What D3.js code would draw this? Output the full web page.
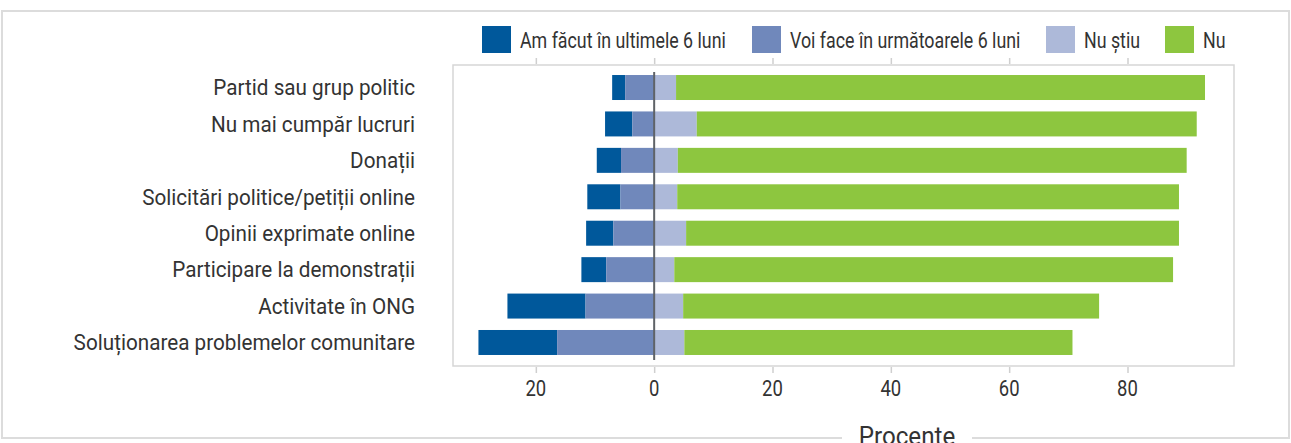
<!DOCTYPE html>
<html>
<head>
<meta charset="utf-8">
<script src="https://cdn.jsdelivr.net/npm/d3@7"></script>
<style>
  html, body { margin: 0; padding: 0; background: #fff; }
  text { font-family: Roboto, "Noto Sans", sans-serif; fill: #333; font-weight: 400; }
</style>
</head>
<body>
<svg width="1291" height="443"></svg>
<script>
// data
var categories = [
  "Partid sau grup politic",
  "Nu mai cumpăr lucruri",
  "Donații",
  "Solicitări politice/petiții online",
  "Opinii exprimate online",
  "Participare la demonstrații",
  "Activitate în ONG",
  "Soluționarea problemelor comunitare"
];
var seriesNames = ["Am făcut în ultimele 6 luni", "Voi face în următoarele 6 luni", "Nu știu", "Nu"];
var seriesColors = ["#00589b", "#7088bb", "#adb9d9", "#8dc63f"];
var doneLast6 = [2.2, 4.6, 4.1, 5.6, 4.6, 4.2, 13.2, 13.3];
var willNext6 = [4.9, 3.7, 5.6, 5.7, 6.9, 8.1, 11.6, 16.4];
var dontKnow = [3.7, 7.2, 4.0, 3.9, 5.4, 3.4, 4.9, 5.1];
var no = [89.4, 84.5, 86.0, 84.8, 83.3, 84.3, 70.3, 65.6];
var tickValues = [-20, 0, 20, 40, 60, 80];

var svg = d3.select("svg");
var w = +svg.attr("width");
var h = +svg.attr("height");

// condensed look: roboto squeezed horizontally
function label(parent, x, y, txt, size, anchor, squeeze) {
  return parent.append("g")
    .attr("transform", "translate(" + x + "," + y + ") scale(" + squeeze + ",1)")
    .append("text")
    .attr("text-anchor", anchor || "start")
    .attr("dominant-baseline", "central")
    .style("font-size", size + "px")
    .text(txt);
}

// outer frame
svg.append("rect")
  .attr("x", 2).attr("y", 11)
  .attr("width", w - 4).attr("height", 427)
  .attr("fill", "none")
  .attr("stroke", "#dcdcdc")
  .attr("stroke-width", 2);

// scales
var x = d3.scaleLinear().domain([-34, 98]).range([453, 1234]);
var y = d3.scaleBand().domain(categories)
  .range([69.3, 360.7])
  .paddingInner(0.314)
  .paddingOuter(0.157);

// plot frame
svg.append("rect")
  .attr("x", x.range()[0]).attr("y", 65)
  .attr("width", x.range()[1] - x.range()[0]).attr("height", 301)
  .attr("fill", "none")
  .attr("stroke", "#d6d6d6")
  .attr("stroke-width", 1.5);

// axes
var axisBottom = svg.append("g")
  .attr("transform", "translate(0,367)")
  .call(d3.axisBottom(x).tickValues(tickValues).tickSize(6).tickFormat(""));
var axisTop = svg.append("g")
  .attr("transform", "translate(0,64)")
  .call(d3.axisTop(x).tickValues(tickValues).tickSize(6).tickFormat(""));
[axisBottom, axisTop].forEach(function(a) {
  a.select(".domain").remove();
  a.selectAll(".tick line").attr("stroke", "#cfcfcf").attr("stroke-width", 1.5);
});
tickValues.forEach(function(t) {
  label(svg, x(t), 388, Math.abs(t), 22, "middle", 0.84);
});

// stacked bars: left side goes out from zero
var rows = categories.map(function(c, i) {
  return {cat: c, vals: [doneLast6[i], willNext6[i], dontKnow[i], no[i]]};
});
var barG = svg.append("g");
rows.forEach(function(r) {
  var left0 = -r.vals[1];
  var segs = [
    {x0: left0 - r.vals[0], x1: left0, k: 0},
    {x0: left0, x1: 0, k: 1},
    {x0: 0, x1: r.vals[2], k: 2},
    {x0: r.vals[2], x1: r.vals[2] + r.vals[3], k: 3}
  ];
  barG.selectAll(null)
    .data(segs)
    .enter()
    .append("rect")
    .attr("x", function(d) { return x(d.x0); })
    .attr("width", function(d) { return x(d.x1) - x(d.x0); })
    .attr("y", y(r.cat))
    .attr("height", y.bandwidth())
    .attr("fill", function(d) { return seriesColors[d.k]; });
});

// zero line
svg.append("line")
  .attr("x1", x(0)).attr("x2", x(0))
  .attr("y1", 72).attr("y2", 360)
  .attr("stroke", "#5f6367")
  .attr("stroke-width", 2);

// category labels
categories.forEach(function(c) {
  label(svg, 415, y(c) + y.bandwidth() / 2, c, 22.5, "end", 0.92);
});

// legend
var legendX = [482, 752, 1046, 1165];
seriesNames.forEach(function(s, i) {
  svg.append("rect")
    .attr("x", legendX[i]).attr("y", 26)
    .attr("width", 29).attr("height", 27)
    .attr("fill", seriesColors[i]);
  label(svg, legendX[i] + 38, 40, s, 22, "start", 0.81);
});

// axis title sitting on the bottom border
var titleW = 130;
svg.append("rect")
  .attr("x", 907 - titleW / 2).attr("y", 430)
  .attr("width", titleW).attr("height", 13)
  .attr("fill", "#fff");
label(svg, 907, 436, "Procente", 26, "middle", 0.93);
</script>
</body>
</html>
